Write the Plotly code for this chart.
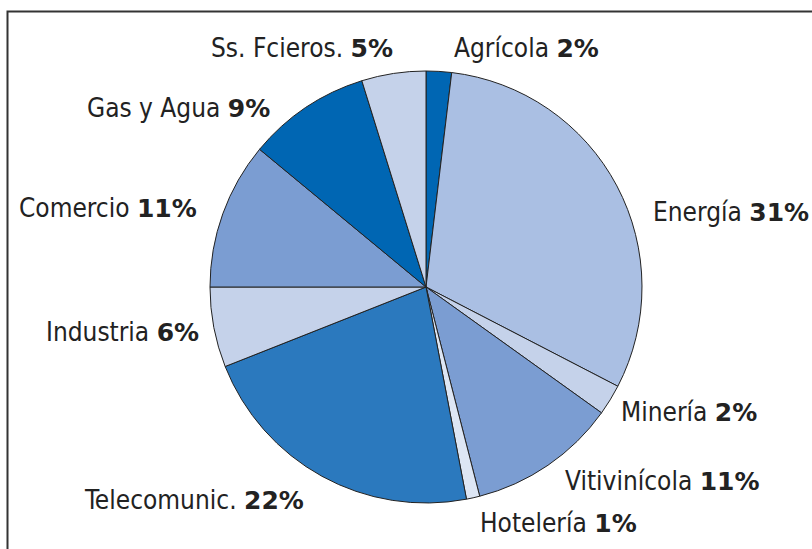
import plotly.graph_objects as go

# ---- data ----
sectors = ["Agrícola", "Energía", "Minería", "Vitivinícola", "Hotelería",
           "Telecomunic.", "Industria", "Comercio", "Gas y Agua", "Ss. Fcieros."]
shares = [1.9, 30.7, 2.3, 11.1, 1.0, 22.0, 6.0, 11.0, 9.2, 4.8]
pct_labels = ["2%", "31%", "2%", "11%", "1%", "22%", "6%", "11%", "9%", "5%"]

# ---- styles ----
colors = ["#0066b3", "#aabfe3", "#c5d2ea", "#7b9dd2", "#dde6f4",
          "#2b79be", "#c5d2ea", "#7b9dd2", "#0066b3", "#c5d2ea"]

W, H = 812, 549
cx, cy, R = 426, 287, 216

fig = go.Figure(go.Pie(
    labels=sectors, values=shares, sort=False, direction="clockwise",
    rotation=0, textinfo="none", hoverinfo="label+percent",
    marker=dict(colors=colors, line=dict(color="#222222", width=1)),
    domain=dict(x=[(cx - R) / W, (cx + R) / W],
                y=[(H - cy - R) / H, (H - cy + R) / H]),
    showlegend=False,
))

# label anchor positions (pixels): (x, y, xanchor)
label_pos = [
    (452, 48, "left"),    # Agrícola
    (651, 212, "left"),   # Energía
    (619, 412, "left"),   # Minería
    (563, 481, "left"),   # Vitivinícola
    (478, 523, "left"),   # Hotelería
    (306, 500, "right"),  # Telecomunic.
    (201, 332, "right"),  # Industria
    (199, 208, "right"),  # Comercio
    (272, 108, "right"),  # Gas y Agua
    (395, 48, "right"),   # Ss. Fcieros.
]

reg_font = "DejaVu Sans Condensed, Liberation Sans Narrow, sans-serif"
bold_font = "DejaVu Sans"

for name, pct, (x, y, anc) in zip(sectors, pct_labels, label_pos):
    fig.add_annotation(
        x=x / W, y=1 - y / H, xref="paper", yref="paper",
        xanchor=anc, yanchor="middle", showarrow=False,
        text=f"{name} <span style=\"font-family:'{bold_font}';font-size:25px\"><b>{pct}</b></span>",
        font=dict(family=reg_font, size=26, color="#222222"),
    )

# outer frame
fig.add_shape(type="rect", xref="paper", yref="paper",
              x0=7.5 / W, x1=1.02, y0=-0.02, y1=1 - 11.5 / H,
              line=dict(color="#333333", width=2), fillcolor="rgba(0,0,0,0)")

fig.update_layout(width=W, height=H, margin=dict(l=0, r=0, t=0, b=0),
                  paper_bgcolor="white", plot_bgcolor="white")

fig.write_html("out.html", config={"displayModeBar": False},
               post_script="document.body.style.margin='0';")
